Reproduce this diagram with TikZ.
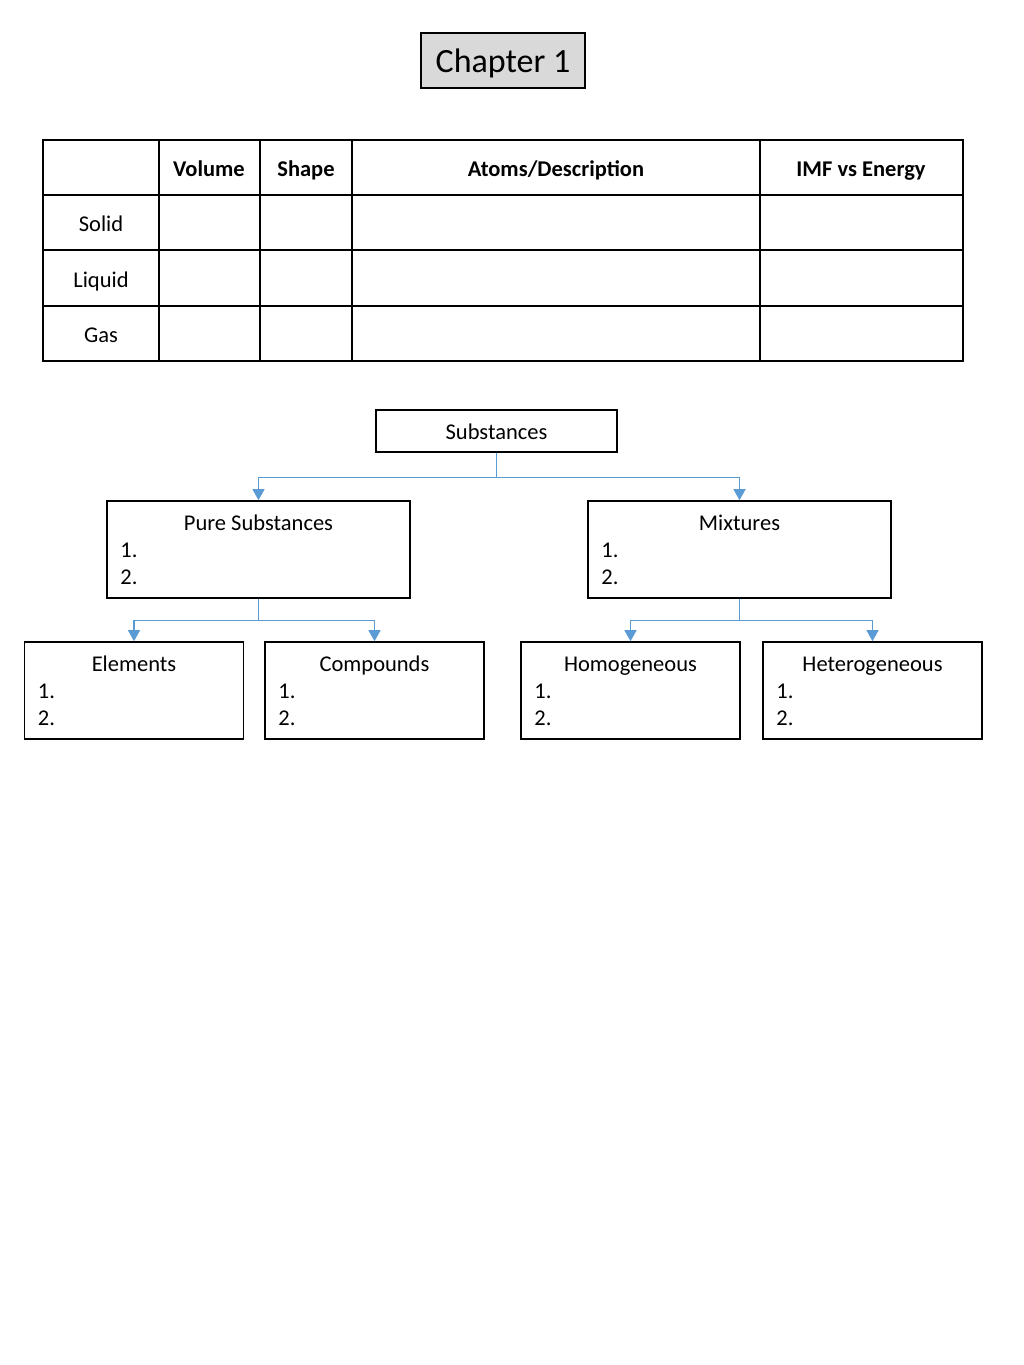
\documentclass[tikz,border=0pt]{standalone}
\usepackage{fontspec}
\setmainfont{Carlito}
\usetikzlibrary{arrows.meta}
\definecolor{linkblue}{HTML}{5B9BD5}
\definecolor{titlegray}{HTML}{D9D9D9}

\tikzset{
    catbox/.style={draw,line width=1.6pt,minimum width=303pt,minimum height=97pt,inner sep=0pt},
    subbox/.style={draw,line width=1.6pt,minimum width=219pt,minimum height=97pt,inner sep=0pt},
    link/.style={draw=linkblue,line width=1.2pt,-{Triangle[width=12pt,length=11pt]}},
    txt/.style={font=\fontsize{22.5}{26}\selectfont,inner sep=0pt,text height=18pt,text depth=2pt},
    head/.style={txt,font=\fontsize{22.5}{26}\selectfont\bfseries}
}

\begin{document}
\begin{tikzpicture}[x=1pt,y=-1pt]
        \useasboundingbox (0,0) rectangle (1024,1365);
        % title
        \node[draw,line width=1.8pt,fill=titlegray,minimum width=164pt,minimum height=55pt,inner sep=0pt,
            text height=26pt,text depth=2pt,font=\fontsize{34}{40}\selectfont] (title) at (503,60.5) {Chapter 1};
        % table
        \draw[line width=1.8pt] (43,140) rectangle (963,361);
        \foreach \x in {159,260,352,760}
            \draw[line width=1.8pt] (\x,140) -- (\x,361);
        \foreach \y in {195,250,306}
            \draw[line width=1.8pt] (43,\y) -- (963,\y);
        \node[head] (hvol) at (209,168) {Volume};
        \node[head] (hshape) at (306,168) {Shape};
        \node[head] (hatoms) at (556,168) {Atoms/Description};
        \node[head] (himf) at (861,168) {IMF vs Energy};
        \node[txt] (solid) at (101,223) {Solid};
        \node[txt] (liquid) at (101,279) {Liquid};
        \node[txt] (gas) at (101,334) {Gas};
        % tree
        \node[draw,line width=1.6pt,minimum width=241pt,minimum height=42pt,txt] (subst) at (496.5,431) {Substances};
        \node[catbox] (pure) at (258.5,549.5) {};
        \node[catbox] (mix) at (739.5,549.5) {};
        \node[subbox] (elem) at (134,690.5) {};
        \node[subbox] (comp) at (374.5,690.5) {};
        \node[subbox] (homo) at (630.5,690.5) {};
        \node[subbox] (hetero) at (872.5,690.5) {};
        \foreach \b/\t in {pure/Pure Substances,mix/Mixtures,elem/Elements,comp/Compounds,homo/Homogeneous,hetero/Heterogeneous}{
            \node[txt] (\b-t) at ([yshift=-22pt]\b.north) {\t};
            \node[txt,anchor=west] (\b-1) at ([xshift=14pt,yshift=-49pt]\b.north west) {1.};
            \node[txt,anchor=west] (\b-2) at ([xshift=14pt,yshift=-76pt]\b.north west) {2.};
        }
        \draw[link] (subst.south) -- ++(0,25) -| (pure.north);
        \draw[link] (subst.south) -- ++(0,25) -| (mix.north);
        \draw[link] (pure.south) -- ++(0,22) -| (elem.north);
        \draw[link] (pure.south) -- ++(0,22) -| (comp.north);
        \draw[link] (mix.south) -- ++(0,22) -| (homo.north);
        \draw[link] (mix.south) -- ++(0,22) -| (hetero.north);
    \end{tikzpicture}
\end{document}
